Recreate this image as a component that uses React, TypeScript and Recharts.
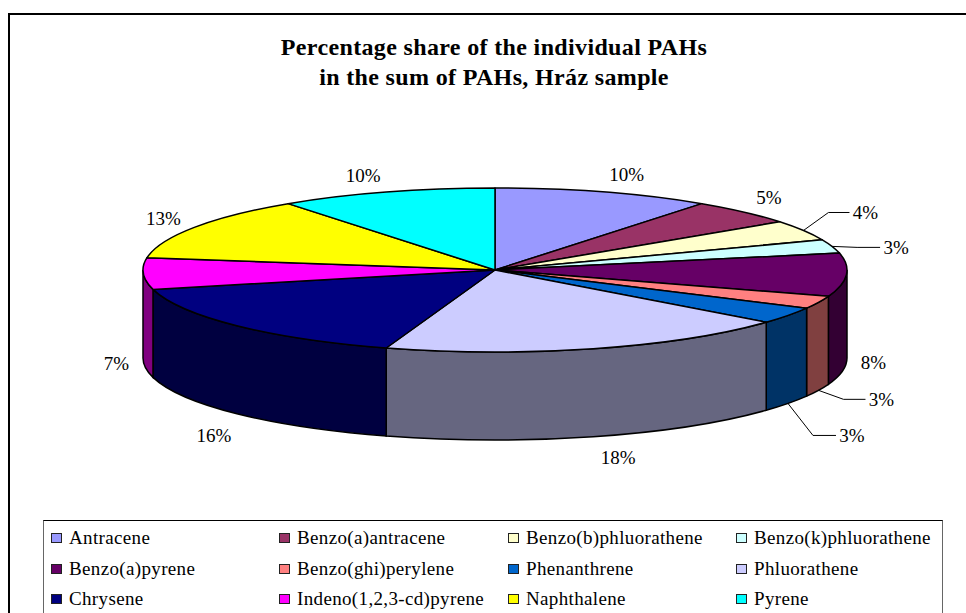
import { PieChart, Pie, Legend } from "recharts";

const names = [
  "Antracene",
  "Benzo(a)antracene",
  "Benzo(b)phluorathene",
  "Benzo(k)phluorathene",
  "Benzo(a)pyrene",
  "Benzo(ghi)perylene",
  "Phenanthrene",
  "Phluorathene",
  "Chrysene",
  "Indeno(1,2,3-cd)pyrene",
  "Naphthalene",
  "Pyrene",
];
// slice sizes (the printed labels are rounded)
const shares = [10, 5, 4, 2.7, 8.5, 2.5, 3.3, 19, 16.2, 6.2, 12.6, 10];
const printed = ["10%", "5%", "4%", "3%", "8%", "3%", "3%", "18%", "16%", "7%", "13%", "10%"];
const colors = [
  "#9999FF",
  "#993366",
  "#FFFFCC",
  "#CCFFFF",
  "#660066",
  "#FF8080",
  "#0066CC",
  "#CCCCFF",
  "#000080",
  "#FF00FF",
  "#FFFF00",
  "#00FFFF",
];
const sideColors = [
  "#4D4D80",
  "#4D1A33",
  "#808066",
  "#668080",
  "#330033",
  "#804040",
  "#003366",
  "#666680",
  "#000040",
  "#800080",
  "#808000",
  "#008080",
];

const titleLines = ["Percentage share of the individual PAHs", "in the sum of PAHs, Hráz sample"];

// label layout, offset from the rim of each slice
const labelDx = [23, 25, 62, 64, 27, 63, 64, 25, -23, -27, -31, -23];
const labelDy = [-18, -15, -18, 1, 0, 9, 32, 21, 22, 2, -9, -17];
const hasLeader = [false, false, true, true, false, true, true, false, false, false, false, false];

const chartData = names.map((name, i) => ({ name, value: shares[i], fill: colors[i] }));

const CX = 495;
const CY = 270;
const RX = 352;
const RY = 82;
const DEPTH = 88;
const RAD = Math.PI / 180;

const rim = (angle: number, dy = 0) => ({
  x: CX + RX * Math.cos(angle * RAD),
  y: CY - RY * Math.sin(angle * RAD) + dy,
});

function Slice3D(props: any) {
  const { startAngle, endAngle, fill, index } = props;
  const a = rim(startAngle);
  const b = rim(endAngle);
  const large = startAngle - endAngle > 180 ? 1 : 0;
  const top = `M${CX},${CY} L${a.x},${a.y} A${RX},${RY} 0 ${large} 1 ${b.x},${b.y} Z`;

  // only the front half of the rim has a visible wall
  const from = Math.min(startAngle, 0);
  const to = Math.max(endAngle, -180);
  let wall = null;
  if (from > to) {
    const p = rim(from);
    const q = rim(to);
    const d =
      `M${p.x},${p.y} A${RX},${RY} 0 0 1 ${q.x},${q.y} ` +
      `L${q.x},${q.y + DEPTH} A${RX},${RY} 0 0 0 ${p.x},${p.y + DEPTH} Z`;
    wall = <path d={d} fill={sideColors[index ?? names.indexOf(props.name)]} stroke="#000" strokeWidth={1.5} />;
  }
  return (
    <g>
      {wall}
      <path d={top} fill={fill} stroke="#000" strokeWidth={1.5} strokeLinejoin="round" />
    </g>
  );
}

function SliceLabel(props: any) {
  const { midAngle, index } = props;
  const front = Math.sin(midAngle * RAD) < 0;
  const anchor = rim(midAngle, front ? DEPTH : 0);
  const x = anchor.x + labelDx[index];
  const y = anchor.y + labelDy[index];
  return (
    <g>
      {hasLeader[index] && (
        <polyline
          points={`${anchor.x},${anchor.y} ${anchor.x + 25},${y} ${x - 16},${y}`}
          fill="none"
          stroke="#000"
          strokeWidth={1}
        />
      )}
      <text
        x={x}
        y={y}
        textAnchor="middle"
        dominantBaseline="central"
        fontFamily="'Liberation Serif', serif"
        fontSize={19}
        fill="#000"
      >
        {printed[index]}
      </text>
    </g>
  );
}

function LegendBox({ payload }: any) {
  return (
    <div
      style={{
        display: "grid",
        gridTemplateColumns: "228px 229px 228px 190px",
        gridAutoRows: "30.5px",
        padding: "2px 0 0 7px",
        width: 900,
        height: 110,
        boxSizing: "border-box",
        background: "#fff",
        borderTop: "1.5px solid #000",
        borderLeft: "1.5px solid #666",
        borderRight: "1.5px solid #666",
        fontFamily: "'Liberation Serif', serif",
        fontSize: 19,
        letterSpacing: 0.35,
        color: "#000",
      }}
    >
      {(payload ?? []).map((entry: any) => (
        <div key={entry.value} style={{ display: "flex", alignItems: "center", whiteSpace: "nowrap" }}>
          <span
            style={{
              width: 9,
              height: 8,
              marginRight: 7,
              flex: "none",
              background: entry.color,
              border: "1.5px solid #222",
            }}
          />
          {entry.value}
        </div>
      ))}
    </div>
  );
}

export default function App() {
  return (
    <div style={{ position: "fixed", left: 0, top: 0, width: 966, height: 613, overflow: "hidden", background: "#fff" }}>
      <div
        style={{
          position: "absolute",
          left: 8,
          top: 13,
          width: 1000,
          height: 700,
          borderTop: "2px solid #000",
          borderLeft: "2px solid #000",
        }}
      />
      <PieChart width={966} height={613} margin={{ top: 0, right: 0, bottom: 0, left: 0 }} style={{ position: "absolute", left: 0, top: 0 }}>
        <text textAnchor="middle" fontFamily="'Liberation Serif', serif" fontWeight="bold" fontSize={24} letterSpacing={0.35} fill="#000">
          <tspan x={494} y={55}>
            {titleLines[0]}
          </tspan>
          <tspan x={494} y={85}>
            {titleLines[1]}
          </tspan>
        </text>
        <Pie
          data={chartData}
          dataKey="value"
          nameKey="name"
          cx={CX}
          cy={CY}
          outerRadius={RX}
          startAngle={90}
          endAngle={-270}
          shape={Slice3D}
          label={SliceLabel}
          labelLine={false}
          isAnimationActive={false}
        />
        <Legend content={LegendBox} itemSorter={null} wrapperStyle={{ left: 43, top: 520, width: 900, bottom: "auto" }} />
      </PieChart>
    </div>
  );
}
